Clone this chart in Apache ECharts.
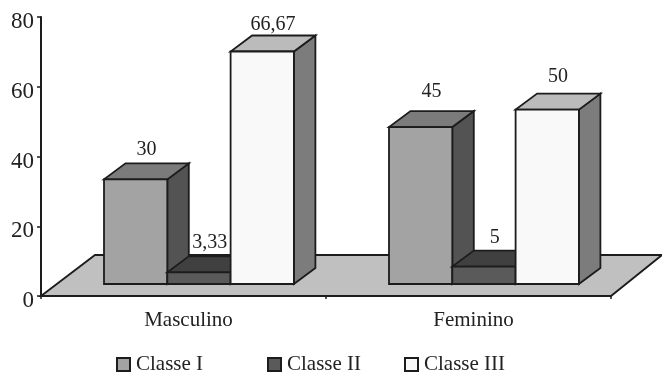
<!DOCTYPE html>
<html>
<head>
<meta charset="utf-8">
<style>html,body{margin:0;padding:0;background:#fff}#chart{width:662px;height:376px}</style>
<script src="https://cdn.jsdelivr.net/npm/echarts@6/dist/echarts.min.js"></script>
</head>
<body>
<div id="chart"></div>
<script>
// Percentage of each class by sex
const categories = ['Masculino', 'Feminino'];
const classeI = [30, 45];
const classeII = [3.33, 5];
const classeIII = [66.67, 50];
const yTicks = [0, 20, 40, 60, 80];

const FONT = '"Liberation Serif", serif';
const INK = '#1c1c1c';
const STROKE = 1.8;

// Pseudo-3D projection of the bars, in pixels
const DEPTH_X = 21.5, DEPTH_Y = 16;
const FLOOR_LIFT = 12;
const BAR_RATIO = 63.3 / 285;
const CLUSTER_START = -79.5 / 285;

// Colours, legend position and value-label clearance for each class
const seriesDefs = [
  { name: 'Classe I', values: classeI, front: '#a3a3a3', top: '#7b7b7b', side: '#535353', legendLeft: 111, labelGap: [14, 19] },
  { name: 'Classe II', values: classeII, front: '#5a5a5a', top: '#404040', side: '#333333', legendLeft: 262, labelGap: [14, 13] },
  { name: 'Classe III', values: classeIII, front: '#f9f9f9', top: '#bbbbbb', side: '#7c7c7c', legendLeft: 399, labelGap: [11, 17] }
];

function face(points, fill) {
  return {
    type: 'polygon',
    shape: { points },
    style: { fill, stroke: INK, lineWidth: STROKE, lineJoin: 'miter' }
  };
}

function barRenderer(def, index) {
  return function (params, api) {
    const band = api.size([1, 0])[0];
    const value = api.value(1);
    const cat = api.value(0);
    const centre = api.coord([cat, 0])[0];
    const w = band * BAR_RATIO;
    const x0 = centre + band * CLUSTER_START + index * w;
    const x1 = x0 + w;
    const yb = api.coord([cat, 0])[1] - FLOOR_LIFT;
    const yt = api.coord([cat, value])[1] - FLOOR_LIFT;
    return {
      type: 'group',
      children: [
        face([[x1, yb], [x1 + DEPTH_X, yb - DEPTH_Y], [x1 + DEPTH_X, yt - DEPTH_Y], [x1, yt]], def.side),
        face([[x0, yt], [x1, yt], [x1 + DEPTH_X, yt - DEPTH_Y], [x0 + DEPTH_X, yt - DEPTH_Y]], def.top),
        face([[x0, yb], [x1, yb], [x1, yt], [x0, yt]], def.front),
        {
          type: 'text',
          style: {
            x: (x0 + x1) / 2 + DEPTH_X / 2,
            y: yt - DEPTH_Y - def.labelGap[cat],
            text: String(value).replace('.', ','),
            font: '20px ' + FONT,
            fill: '#222',
            align: 'center',
            verticalAlign: 'middle'
          }
        }
      ]
    };
  };
}

function floorRenderer(params) {
  const g = params.coordSys;
  const yf = g.y + g.height;
  const yb = yf - 41;
  const skew = 54;
  const xl = g.x, xr = g.x + g.width;
  return {
    type: 'polygon',
    shape: { points: [[xl, yf], [xl + skew, yb], [xr + skew - 3, yb], [xr, yf]] },
    style: { fill: '#c0c0c0', stroke: INK, lineWidth: STROKE }
  };
}

const chart = echarts.init(document.getElementById('chart'), null, { renderer: 'canvas' });
chart.setOption({
  animation: false,
  backgroundColor: '#fff',
  grid: { left: 41, right: 51, top: 17, bottom: 80 },
  xAxis: {
    type: 'category',
    data: categories,
    z: 10,
    axisLine: { lineStyle: { color: INK, width: 2 } },
    axisTick: { show: true, length: 3, lineStyle: { color: INK, width: 1.5 } },
    axisLabel: { color: '#222', fontFamily: FONT, fontSize: 21, margin: 14, padding: [0, 0, 0, 10] }
  },
  yAxis: {
    type: 'value',
    min: yTicks[0],
    max: yTicks[yTicks.length - 1],
    interval: yTicks[1] - yTicks[0],
    z: 10,
    splitLine: { show: false },
    axisLine: { show: true, lineStyle: { color: INK, width: 2 } },
    axisTick: { show: true, length: 4, lineStyle: { color: INK, width: 1.5 } },
    axisLabel: { color: '#222', fontFamily: FONT, fontSize: 23, margin: 7, verticalAlign: 'top', lineHeight: 10 }
  },
  legend: seriesDefs.map(def => ({
    left: def.legendLeft,
    top: 349,
    itemWidth: 13,
    itemHeight: 13,
    icon: 'rect',
    data: [def.name],
    textStyle: { color: '#222', fontFamily: FONT, fontSize: 21, padding: [0, 0, 0, 1] }
  })),
  series: [
    { type: 'custom', name: 'Piso', silent: true, data: [0], renderItem: floorRenderer, z: 1 }
  ].concat(seriesDefs.map((def, i) => ({
    type: 'custom',
    name: def.name,
    z: 2 + i,
    silent: true,
    itemStyle: { color: def.front, borderColor: INK, borderWidth: 1.5 },
    encode: { x: 0, y: 1 },
    data: def.values.map((v, c) => [c, v]),
    renderItem: barRenderer(def, i)
  })))
});
</script>
</body>
</html>
